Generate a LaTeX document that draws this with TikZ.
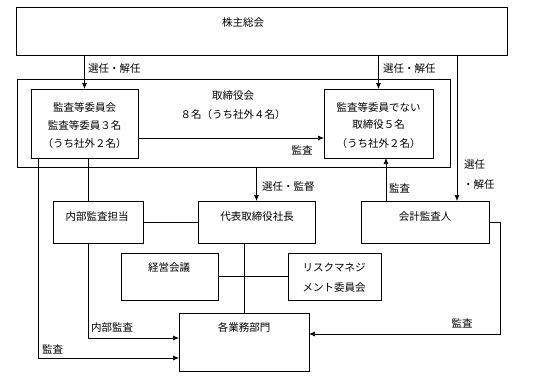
\documentclass[tikz,border=0pt]{standalone}
\usepackage{fontspec}
\setmainfont{Noto Sans CJK JP}
\usetikzlibrary{arrows.meta}
\begin{document}
\begin{tikzpicture}[x=1pt,y=-1pt,
  box/.style={draw,line width=0.7pt,inner sep=0pt,outer sep=0pt},
  lbl/.style={inner sep=0pt,font=\fontsize{10.5}{12}\selectfont},
  ln/.style={line width=0.7pt},
  arr/.style={line width=0.7pt,-{Latex[length=6pt,width=5pt]}}]
\useasboundingbox (0,0) rectangle (536,391);
% boxes
\node[box,minimum width=491,minimum height=48] (gm) at (261.5,31) {};
\node[box,minimum width=433,minimum height=88] (board) at (233.5,123) {};
\node[box,minimum width=107,minimum height=69] (aud) at (84.5,123.5) {};
\node[box,minimum width=109,minimum height=69] (nonaud) at (378.5,123.5) {};
\node[box,minimum width=90,minimum height=42] (internal) at (98,222) {};
\node[box,minimum width=117,minimum height=42] (ceo) at (256.5,222) {};
\node[box,minimum width=128,minimum height=42] (acct) at (425,222) {};
\node[box,minimum width=97,minimum height=47] (mgmt) at (169.5,276.5) {};
\node[box,minimum width=93,minimum height=47] (risk) at (334.5,276.5) {};
\node[box,minimum width=130,minimum height=58] (biz) at (244,342) {};
% helper coordinates
\coordinate (x457) at (457,0);
\coordinate (x386) at (386,0);
\coordinate (x88) at (88,0);
\coordinate (x38) at (38,0);
\coordinate (y138) at (0,138);
\coordinate (y338) at (0,338);
\coordinate (y358) at (0,358);
\coordinate (r500) at (500,334);
% texts
\node[lbl] (t1) at (243,23) {株主総会};
\node[lbl] (t2) at (233,96) {取締役会};
\node[lbl] (t3) at (233,115) {８名（うち社外４名）};
\node[lbl] (t4) at (84.5,107) {監査等委員会};
\node[lbl] (t5) at (84.5,125) {監査等委員３名};
\node[lbl] (t6) at (84.5,144) {（うち社外２名）};
\node[lbl] (t7) at (378.5,107) {監査等委員でない};
\node[lbl] (t8) at (378.5,125) {取締役５名};
\node[lbl] (t9) at (378.5,144) {（うち社外２名）};
\node[lbl] (t10) at (97,217) {内部監査担当};
\node[lbl] (t11) at (257,217) {代表取締役社長};
\node[lbl] (t12) at (425,217) {会計監査人};
\node[lbl] (t13) at (169,268) {経営会議};
\node[lbl] (t14) at (334,267) {リスクマネジ};
\node[lbl] (t15) at (334,288) {メント委員会};
\node[lbl] (t16) at (244,327) {各業務部門};
% connector labels
\node[lbl,anchor=west] (l1) at (88,69) {選任・解任};
\node[lbl,anchor=west] (l2) at (383,69) {選任・解任};
\node[lbl] (l3) at (302,150) {監査};
\node[lbl,anchor=west] (l4) at (262,187) {選任・監督};
\node[lbl,anchor=west] (l5) at (389,188) {監査};
\node[lbl,anchor=west] (l6) at (464,165) {選任};
\node[lbl,anchor=west] (l7) at (463,185) {・解任};
\node[lbl,anchor=west] (l8) at (91,328) {内部監査};
\node[lbl,anchor=west] (l9) at (42,349) {監査};
\node[lbl] (l10) at (462,323) {監査};
% connectors
\draw[arr] (gm.south -| aud.north) -- (aud.north);
\draw[arr] (gm.south -| nonaud.north) -- (nonaud.north);
\draw[arr] (gm.south -| x457) -- (acct.north -| x457);
\draw[arr] (aud.east |- y138) -- (nonaud.west |- y138);
\draw[arr] (board.south -| ceo.north) -- (ceo.north);
\draw[arr] (acct.north -| x386) -- (nonaud.south -| x386);
\draw[ln] (aud.south -| x88) -- (internal.north -| x88);
\draw[arr] (internal.south -| x88) |- (biz.west |- y338);
\draw[arr] (aud.south -| x38) |- (biz.west |- y358);
\draw[ln] (internal.east) -- (ceo.west);
\draw[ln] (ceo.south -| biz.north) -- (biz.north);
\draw[ln] (mgmt.east) -- (risk.west);
\draw[arr] (acct.east) -| (r500) -- (biz.east |- r500);
\end{tikzpicture}
\end{document}
